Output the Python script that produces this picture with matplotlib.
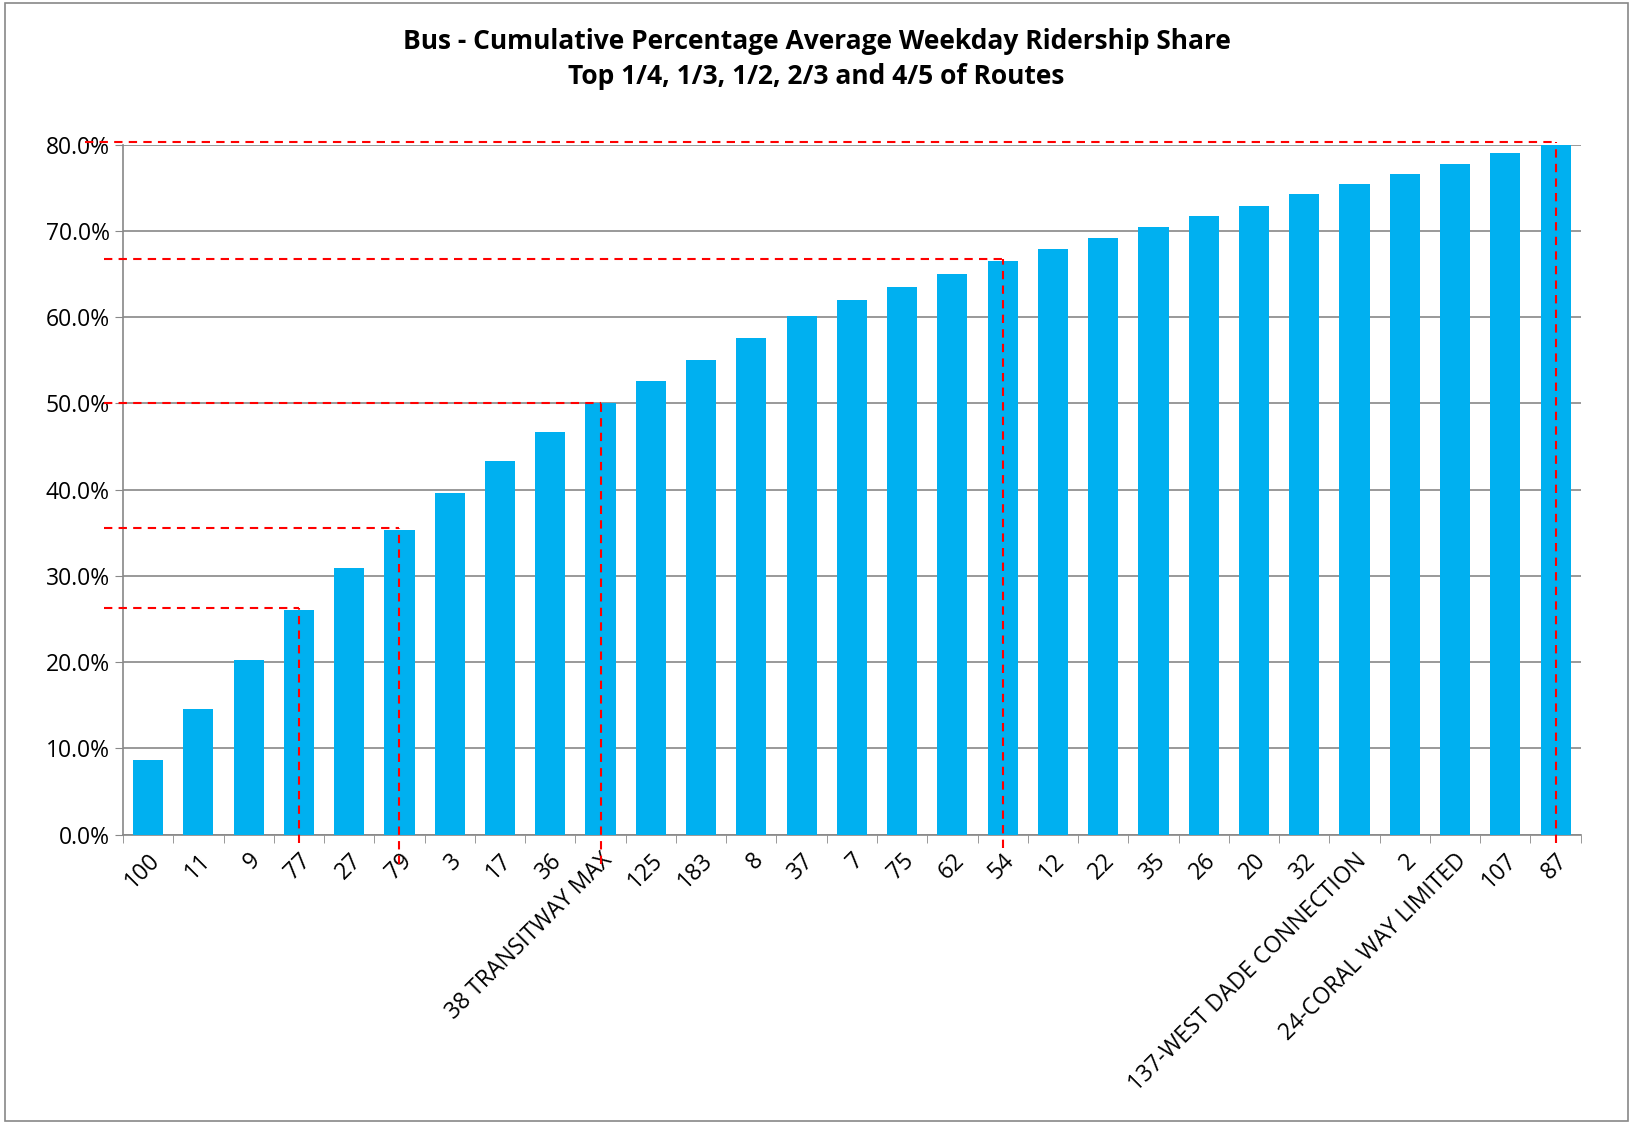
import matplotlib.pyplot as plt
import numpy as np

plt.rcParams['font.family'] = ['Open Sans', 'DejaVu Sans']

routes = ["100", "11", "9", "77", "27", "79", "3", "17", "36", "38 TRANSITWAY MAX",
          "125", "183", "8", "37", "7", "75", "62", "54", "12", "22", "35", "26", "20",
          "32", "137-WEST DADE CONNECTION", "2", "24-CORAL WAY LIMITED", "107", "87"]
share = [8.7, 14.6, 20.3, 26.1, 30.9, 35.3, 39.6, 43.3, 46.7, 50.0,
         52.6, 55.0, 57.6, 60.1, 62.0, 63.5, 65.0, 66.5, 67.9, 69.2, 70.5, 71.7, 72.9,
         74.3, 75.4, 76.6, 77.8, 79.0, 80.1]
# marker lines: (bar index, level %, bottom end %)
markers = [(3, 26.3, -1.0), (5, 35.5, -3.4), (9, 50.0, -3.4), (17, 66.8, -1.5), (28, 80.3, -1.0)]

fig = plt.figure(figsize=(16.33, 11.24), dpi=100)
ax = fig.add_axes([0.0753, 0.2574, 0.8927, 0.6139])
x = np.arange(len(routes))
ax.bar(x, [v / 100 for v in share], width=0.6, color="#00B0F0", zorder=3)

ax.set_xlim(-0.5, len(routes) - 0.5)
ax.set_ylim(0, 0.8)
ax.set_yticks(np.arange(0, 0.81, 0.1))
ax.set_yticklabels([f"{v*100:.1f}%" for v in np.arange(0, 0.81, 0.1)], fontsize=16.5)
ax.set_xticks(x)
ax.set_xticklabels(routes, rotation=45, ha="right", rotation_mode="anchor", fontsize=16.5)
ax.tick_params(axis="x", length=0, pad=10)
ax.set_xticks(np.arange(-0.5, len(routes), 1), minor=True)
ax.tick_params(axis="x", which="minor", length=6, color="#888888")
ax.tick_params(axis="y", length=6, color="#888888", direction="out")
ax.grid(axis="y", color="#888888", linewidth=1.2, zorder=0)
for s in ["top", "right"]:
    ax.spines[s].set_visible(False)
for s in ["left", "bottom"]:
    ax.spines[s].set_color("#888888")
    ax.spines[s].set_linewidth(1.2)

for i, lvl, bot in markers:
    left = -1.25 if i == 28 else -0.87
    ax.plot([left, i], [lvl / 100, lvl / 100], color="red", ls=(0, (4, 3)), lw=1.5,
            clip_on=False, zorder=4)
    ax.plot([i, i], [bot / 100, lvl / 100], color="red", ls=(0, (4, 3)), lw=1.5,
            clip_on=False, zorder=4)

fig.text(0.5, 0.963, "Bus - Cumulative Percentage Average Weekday Ridership Share",
         ha="center", va="center", fontsize=19, fontweight="bold")
fig.text(0.5, 0.932, "Top 1/4, 1/3, 1/2, 2/3 and 4/5 of Routes",
         ha="center", va="center", fontsize=19, fontweight="bold")
fig.patches.append(plt.Rectangle((0.003, 0.003), 0.994, 0.994, transform=fig.transFigure,
                                 fill=False, edgecolor="#888888", linewidth=1.2))
fig.savefig("out.png", dpi=100)
